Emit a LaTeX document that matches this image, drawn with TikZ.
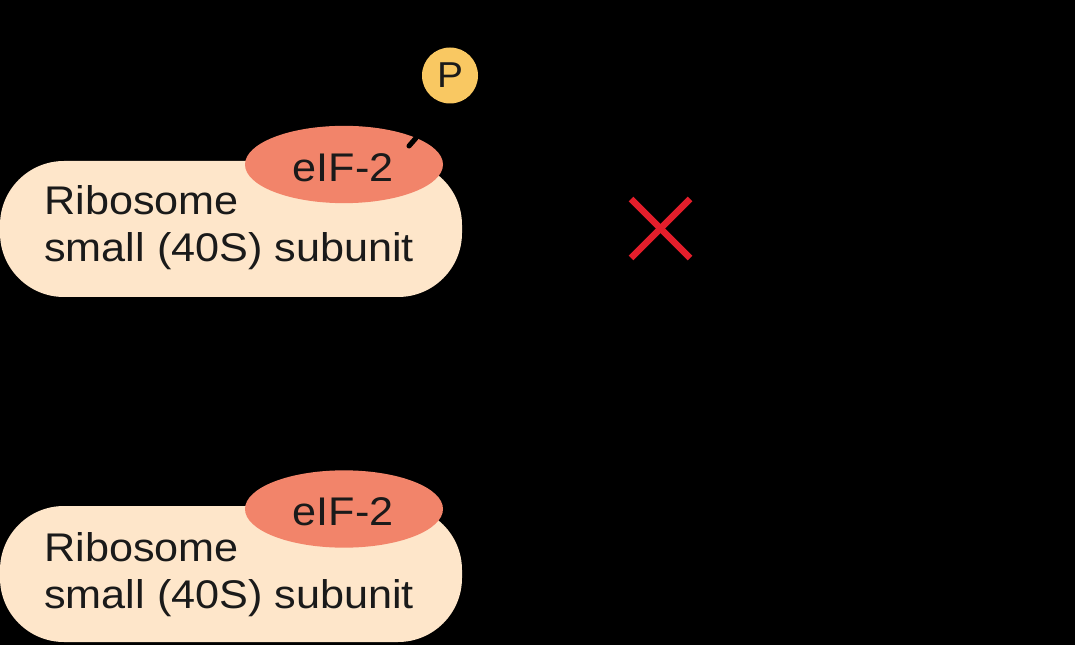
\documentclass[tikz,border=0pt]{standalone}
\usepackage{fontspec}
\setmainfont{Liberation Sans}[FakeStretch=1.08]
\usetikzlibrary{shapes.geometric}
\definecolor{pillc}{HTML}{FEE6CA}
\definecolor{eifc}{HTML}{F2846A}
\definecolor{pc}{HTML}{F9C862}
\definecolor{xred}{HTML}{E41E2B}
\definecolor{txt}{HTML}{1A1A1A}
\begin{document}
\begin{tikzpicture}[x=0.75pt,y=-0.75pt,
  pill/.style={fill=pillc, rounded corners=48pt, minimum width=346.5pt, minimum height=102pt, inner sep=0pt},
  eif/.style={ellipse, fill=eifc, minimum width=148.5pt, minimum height=58pt, inner sep=0pt},
  lbl/.style={anchor=base west, inner sep=0pt, text=txt, font=\fontsize{30}{35}\selectfont},
  eiflbl/.style={anchor=base, inner sep=0pt, text=txt, font=\fontsize{30}{35}\selectfont},
  phos/.style={circle, fill=pc, minimum size=42pt, inner sep=0pt, text=txt, font=\fontsize{27}{30}\selectfont},
  xline/.style={xred, line width=5pt},
  bond/.style={black, line width=3.8pt, line cap=round}]
\fill[black] (0,0) rectangle (1075,645);
\path[use as bounding box] (0,0) rectangle (1075,645);
% top complex
\node[pill] (rib1) at (231,229) {};
\node[lbl] (r1a) at (44,215) {Ribosome};
\node[lbl] (r1b) at (44,262) {small (40S) subunit};
\node[eif] (e1) at (344,164.5) {};
\node[eiflbl] (e1t) at (343,182) {eIF-2};
\coordinate (b1s) at (409,146);
\coordinate (b1e) at (416,138);
\draw[bond] (b1s) -- (b1e);
\node[phos] (p1) at (450,75.5) {P};
% red cross
\coordinate (xa) at (631,199);
\coordinate (xb) at (690,258);
\coordinate (xc) at (690,199);
\coordinate (xd) at (631,258);
\draw[xline] (xa) -- (xb);
\draw[xline] (xc) -- (xd);
% bottom complex
\node[pill] (rib2) at (231,574) {};
\node[lbl] (r2a) at (44,561) {Ribosome};
\node[lbl] (r2b) at (44,608) {small (40S) subunit};
\node[eif] (e2) at (344,509) {};
\node[eiflbl] (e2t) at (343,525) {eIF-2};
\end{tikzpicture}
\end{document}
